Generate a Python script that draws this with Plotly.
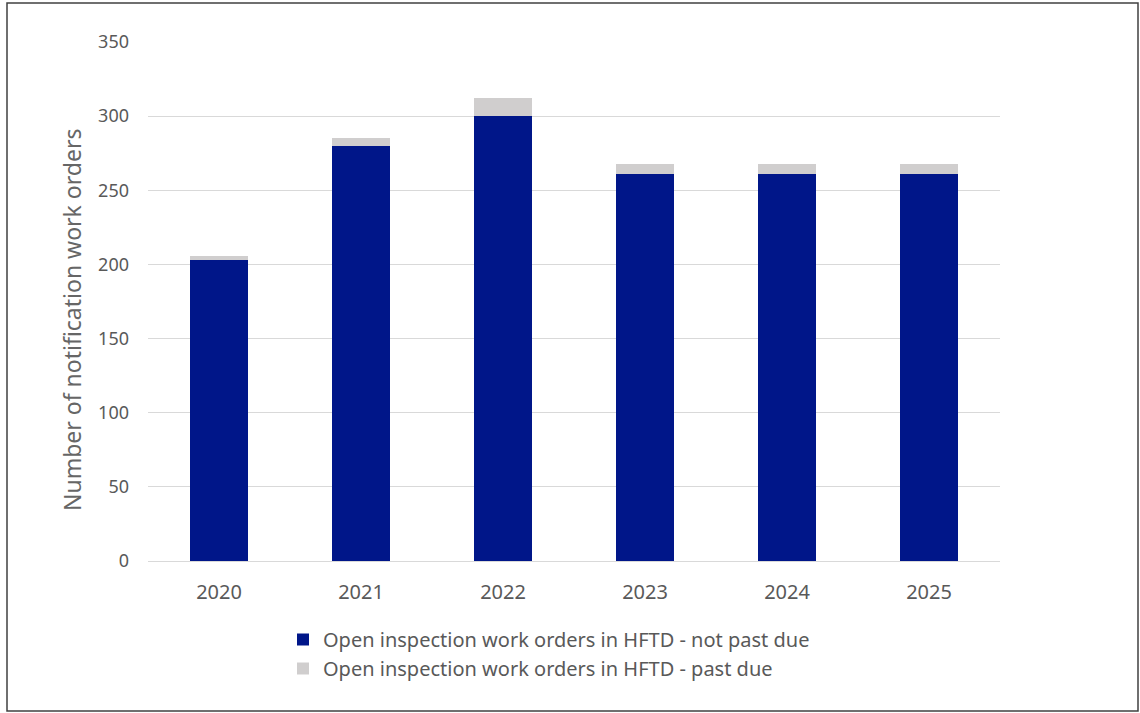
import plotly.graph_objects as go

years = ["2020", "2021", "2022", "2023", "2024", "2025"]
not_past_due = [203, 280, 300, 261, 261, 261]
past_due = [3, 5, 12, 7, 7, 7]
y_ticks = [0, 50, 100, 150, 200, 250, 300, 350]

W, H = 1140, 713
L, R, T, B = 148, 140, 42, 152
pw, ph = W - L - R, H - T - B

fig = go.Figure()
fig.add_trace(go.Bar(x=years, y=not_past_due, name="Open inspection work orders in HFTD - not past due",
                     legendgroup="a", marker=dict(color="#001689", line=dict(width=0))))
fig.add_trace(go.Bar(x=years, y=past_due, name="Open inspection work orders in HFTD - past due",
                     legendgroup="b", marker=dict(color="#D0CECE", line=dict(width=0))))

def px_x(p):
    return (p - L) / pw

def px_y(p):
    return (H - B - p) / ph

fig.update_layout(
    barmode="stack",
    bargap=0.59,
    width=W, height=H,
    margin=dict(l=L, r=R, t=T, b=B),
    paper_bgcolor="white",
    plot_bgcolor="white",
    font=dict(family="Noto Sans, Open Sans, sans-serif", color="#595959", size=16),
    xaxis=dict(showgrid=False, showline=True, linecolor="#D9D9D9", linewidth=1,
               ticks="", tickfont=dict(size=20), ticklabelstandoff=13),
    yaxis=dict(range=[0, 350], tickvals=y_ticks, showgrid=True, gridcolor="#D9D9D9",
               gridwidth=1, zeroline=False, ticks="", tickfont=dict(size=18),
               ticklabelstandoff=18),
    legend=dict(orientation="v", x=px_x(283), y=px_y(620), xanchor="left", yanchor="top",
                font=dict(size=20), traceorder="normal", itemsizing="constant",
                tracegroupgap=11),
    showlegend=True,
    annotations=[dict(text="Number of notification work orders", xref="paper", yref="paper",
                      x=px_x(72), y=px_y(320), textangle=-90, showarrow=False,
                      font=dict(size=23, color="#666666"), xanchor="center", yanchor="middle")],
    shapes=[dict(type="rect", xref="paper", yref="paper",
                 x0=px_x(7), x1=px_x(1138), y0=px_y(711), y1=px_y(3),
                 line=dict(color="#404040", width=1.5), fillcolor="rgba(0,0,0,0)", layer="below")],
)

fig.write_html("out.html", config={"displayModeBar": False},
               post_script="document.body.style.margin='0';")
